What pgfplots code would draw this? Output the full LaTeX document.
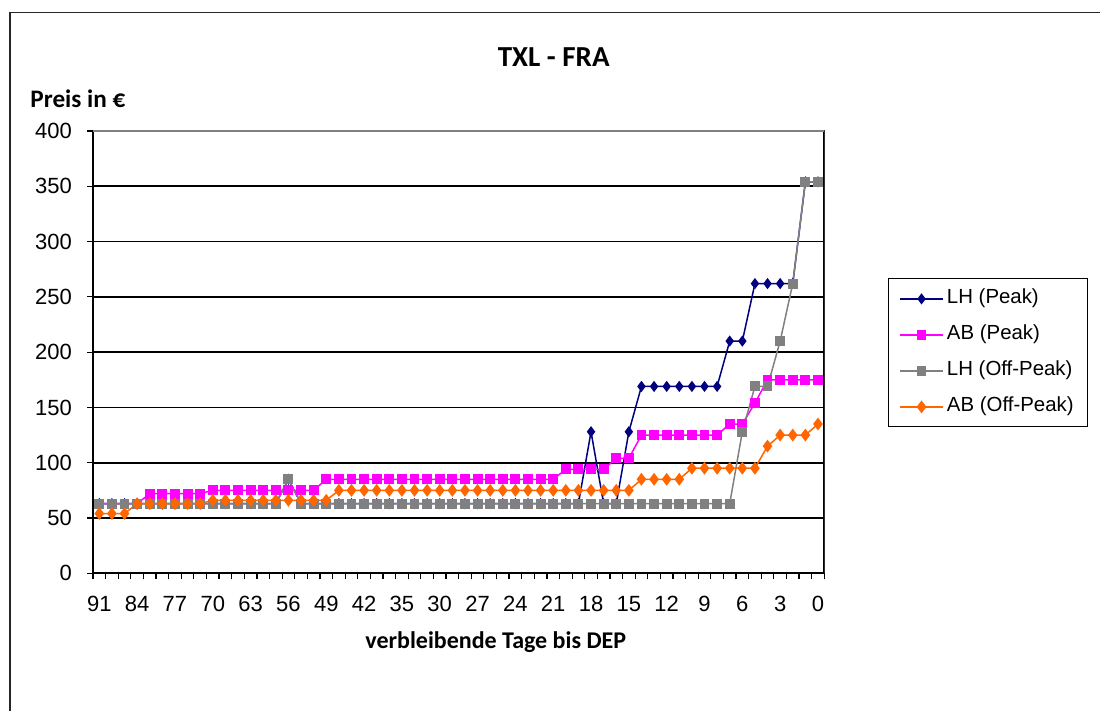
\documentclass[border=0pt]{standalone}
\usepackage{fontspec}
\setmainfont{Liberation Sans}
\newfontfamily\calibri{Carlito}
\usepackage{pgfplots}
\usepackage{pgfplotstable}
\pgfplotsset{compat=1.18}

\definecolor{lhpeak}{RGB}{0,0,128}
\definecolor{abpeak}{RGB}{255,0,255}
\definecolor{lhoff}{RGB}{128,128,128}
\definecolor{aboff}{RGB}{255,102,0}

% idx = category position (labels every 3rd category)
\pgfplotstableread{
idx lhp abp lho abo
0  63  63  63  54
1  63  63  63  54
2  63  63  63  54
3  63  63  63  63
4  63  72  63  63
5  63  72  63  63
6  63  72  63  63
7  63  72  63  63
8  63  72  63  63
9  63  75  63  66
10 63  75  63  66
11 63  75  63  66
12 63  75  63  66
13 63  75  63  66
14 63  75  63  66
15 85  75  85  66
16 63  75  63  66
17 63  75  63  66
18 63  85  63  66
19 63  85  63  75
20 63  85  63  75
21 63  85  63  75
22 63  85  63  75
23 63  85  63  75
24 63  85  63  75
25 63  85  63  75
26 63  85  63  75
27 63  85  63  75
28 63  85  63  75
29 63  85  63  75
30 63  85  63  75
31 63  85  63  75
32 63  85  63  75
33 63  85  63  75
34 63  85  63  75
35 63  85  63  75
36 63  85  63  75
37 63  94  63  75
38 63  94  63  75
39 128 94  63  75
40 63  94  63  75
41 63  104 63  75
42 128 104 63  75
43 169 125 63  85
44 169 125 63  85
45 169 125 63  85
46 169 125 63  85
47 169 125 63  95
48 169 125 63  95
49 169 125 63  95
50 210 135 63  95
51 210 135 128 95
52 262 154 169 95
53 262 175 169 115
54 262 175 210 125
55 262 175 262 125
56 354 175 354 125
57 354 175 354 135
}\pricedata

\begin{document}
\begin{tikzpicture}
\useasboundingbox (0,0) rectangle (550pt,355.5pt);
\draw[line width=0.6pt, black!85] (5pt,-20pt) -- (5pt,349.35pt) -- (600pt,349.35pt);
\begin{axis}[
  at={(46.5pt,68.85pt)}, anchor=south west,
  scale only axis, width=365.65pt, height=221.15pt,
  xmin=-0.5, xmax=57.5, ymin=0, ymax=400,
  /pgf/number format/assume math mode=true,
  axis line style={black, line width=0.85pt},
  tick pos=left, tick align=outside,
  major tick length=3pt, minor tick length=3pt,
  xtick={0,3,...,57},
  xticklabels={91,84,77,70,63,56,49,42,35,30,27,24,21,18,15,12,9,6,3,0},
  major x tick style={draw=none},
  minor xtick={-0.5,0.5,...,57.5},
  minor x tick style={black, line width=0.6pt},
  ytick={0,50,...,400},
  major y tick style={black, line width=0.6pt},
  ymajorgrids=true,
  grid style={black, line width=0.9pt},
  xticklabel style={font=\fontsize{11}{13}\selectfont, yshift=-5pt},
  yticklabel style={font=\fontsize{11}{13}\selectfont, xshift=-4pt},
  title={TXL - FRA},
  every axis title/.style={at={(axis description cs:0.630,1.1454)}, anchor=base, font=\calibri\bfseries\fontsize{14.5}{16}\selectfont},
  xlabel={verbleibende Tage bis DEP},
  every axis x label/.style={at={(axis description cs:0.5508,-0.1696)}, anchor=base, font=\calibri\bfseries\fontsize{12}{14}\selectfont},
  ylabel={Preis in €},
  every axis y label/.style={at={(axis description cs:-0.0861,1.0527)}, anchor=base west, inner sep=0pt, font=\calibri\bfseries\fontsize{12.6}{14}\selectfont},
  legend cell align=left,
  legend image code/.code={\draw[mark repeat=2,mark phase=2,#1] plot coordinates {(0pt,0pt) (10.75pt,0pt) (21.5pt,0pt)};},
  legend style={at={(axis description cs:1.0867,0.667)}, anchor=north west,
    draw=black, line width=0.6pt, font=\fontsize{10.2}{12}\selectfont,
    inner xsep=5.5pt, inner ysep=4pt, row sep=6pt,
    nodes={inner xsep=1.6pt, inner ysep=1pt, text height=7.5pt, text depth=2.5pt}},
]
\addplot[lhpeak, line width=0.75pt, mark=diamond*, mark size=2.2pt, mark options={solid, fill=lhpeak}] table[x=idx, y=lhp] {\pricedata};
\addlegendentry{LH (Peak)}
\addplot[abpeak, line width=0.75pt, mark=square*, mark size=2.1pt, mark options={solid, fill=abpeak}] table[x=idx, y=abp] {\pricedata};
\addlegendentry{AB (Peak)}
\addplot[lhoff, line width=0.75pt, mark=square*, mark size=2.1pt, mark options={solid, fill=lhoff}] table[x=idx, y=lho] {\pricedata};
\addlegendentry{LH (Off-Peak)}
\addplot[aboff, line width=0.75pt, mark=diamond*, mark size=2.6pt, mark options={solid, fill=aboff}] table[x=idx, y=abo] {\pricedata};
\addlegendentry{AB (Off-Peak)}
\draw[lhoff, line width=0.65pt] (rel axis cs:0,1) -- (rel axis cs:1,1) -- (rel axis cs:1,0);
\end{axis}
\end{tikzpicture}
\end{document}
